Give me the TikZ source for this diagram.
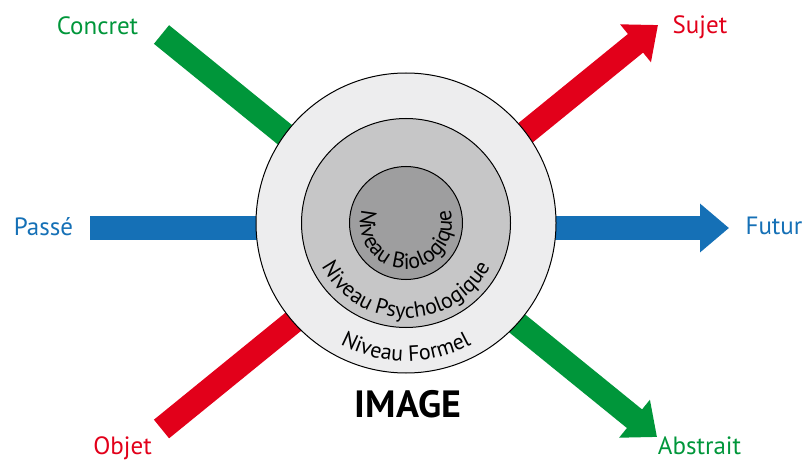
\documentclass[tikz,border=0pt]{standalone}
\usepackage{fontspec}
\setmainfont{PT Sans}
\usetikzlibrary{arrows.meta,decorations.text}
\definecolor{imgGreen}{HTML}{00963A}
\definecolor{imgRed}{HTML}{E2001A}
\definecolor{imgBlue}{HTML}{1570B6}
\definecolor{imgOuter}{HTML}{EDEDEE}
\definecolor{imgMiddle}{HTML}{C6C6C7}
\definecolor{imgInner}{HTML}{9E9E9F}
\newcommand\imgcurvefont{\fontsize{22}{22}\selectfont}
\tikzset{
  every picture/.style={font=\fontsize{25}{25}\selectfont},
  img axis/.style={line width=24pt, line cap=butt},
  img head/.style={-{Triangle[length=29pt,width=47pt]}},
  img ring/.style={draw=black, line width=1pt},
  img label/.style={anchor=base, inner sep=0pt},
  img curve/.style={decorate, decoration={text along path, text align=center,
    text={|\imgcurvefont|#1}}}
}

\begin{document}
\begin{tikzpicture}[x=1pt,y=1pt]
  \useasboundingbox (0,0) rectangle (803,461);
  % the three axes, drawn under the levels
  \coordinate (concret end) at (161.5,426.5);
  \coordinate (abstrait tip) at (657,24);
  \coordinate (passe end) at (90,233);
  \coordinate (futur tip) at (729,233);
  \coordinate (objet end) at (161.5,32);
  \coordinate (sujet tip) at (658,436);
  \draw[img axis, imgBlue, img head] (passe end) -- (futur tip);
  \draw[img axis, imgGreen, img head] (concret end) -- (abstrait tip);
  \draw[img axis, imgRed, img head] (objet end) -- (sujet tip);

  % levels
  \coordinate (c) at (406,238);
  \filldraw[img ring, fill=imgOuter] (c) circle[radius=150pt];
  \filldraw[img ring, fill=imgMiddle] (c) circle[radius=104.5pt];
  \filldraw[img ring, fill=imgInner] (c) circle[radius=56.5pt];
  \path[img curve={Niveau Formel}] (c) ++(205:138pt) arc[start angle=205, end angle=335, radius=138pt];
  \path[img curve={Niveau Psychologique}] (c) ++(170:95pt) arc[start angle=170, end angle=370, radius=95pt];
  \path[img curve={Niveau Biologique}] (c) ++(120:46pt) arc[start angle=120, end angle=420, radius=46pt];

  % labels
  \node[img label, text=imgGreen] (concret) at (97.5,426) {Concret};
  \node[img label, text=imgRed] (sujet) at (700,427.5) {Sujet};
  \node[img label, text=imgBlue] (passe) at (43.5,225) {Passé};
  \node[img label, text=imgBlue] (futur) at (774,226) {Futur};
  \node[img label, text=imgRed] (objet) at (122.5,6.5) {Objet};
  \node[img label, text=imgGreen] (abstrait) at (699.5,6.5) {Abstrait};
  \node[img label, font=\bfseries\fontsize{38}{38}\selectfont] (image) at (408,43.7) {IMAGE};
\end{tikzpicture}
\end{document}
